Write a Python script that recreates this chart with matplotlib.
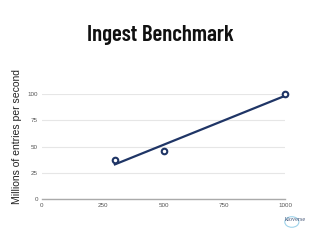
import matplotlib
matplotlib.use("Agg")
import matplotlib.pyplot as plt
import numpy as np

title = "Ingest Benchmark"
ylabel = "Millions of entries per second"
x_vals = [300, 500, 1000]
y_vals = [37, 46, 100]
x_ticks = [0, 250, 500, 750, 1000]
y_ticks = [0, 25, 50, 75, 100]

navy = "#1f3566"
fig = plt.figure(figsize=(3.2, 2.4), dpi=100)
ax = fig.add_axes([0.131, 0.171, 0.76, 0.437])

slope, intercept = np.polyfit(x_vals, y_vals, 1)
xl = np.array([min(x_vals), max(x_vals)])
ax.plot(xl, slope * xl + intercept, color=navy, lw=1.6, zorder=3, clip_on=False)
ax.plot(x_vals, y_vals, "o", ms=4, mfc="white", mec=navy, mew=1.5, zorder=4, clip_on=False)

ax.set_xlim(0, 1000)
ax.set_ylim(0, 100)
ax.set_xticks(x_ticks)
ax.set_yticks(y_ticks)
ax.tick_params(length=0, labelsize=4.5, labelcolor="#555555", pad=3)
for lbl in ax.get_xticklabels() + ax.get_yticklabels():
    lbl.set_family("Liberation Sans")
ax.grid(axis="y", color="#e6e6e6", lw=0.8)
ax.set_axisbelow(True)
for s in ["top", "right", "left"]:
    ax.spines[s].set_visible(False)
ax.spines["bottom"].set_color("#aaaaaa")
ax.spines["bottom"].set_linewidth(1)

fig.text(0.053, 0.43, ylabel, rotation=90, ha="center", va="center",
         fontsize=7.5, family="Liberation Sans", color="#222222")
fig.text(0.5, 0.855, title, ha="center", va="center", fontsize=16.5,
         family=["Barlow Condensed", "DejaVu Sans"], weight="semibold", color="#111111")
fig.text(0.955, 0.085, "kloverse", ha="right", va="center", fontsize=4.5,
         family="Liberation Serif", color="#445577")
fig.patches.append(plt.Circle((0.912, 0.075), 0.022, transform=fig.transFigure,
                              fill=False, ec="#9fd3ea", lw=0.8))
fig.savefig("out.png", dpi=100, facecolor="white")
